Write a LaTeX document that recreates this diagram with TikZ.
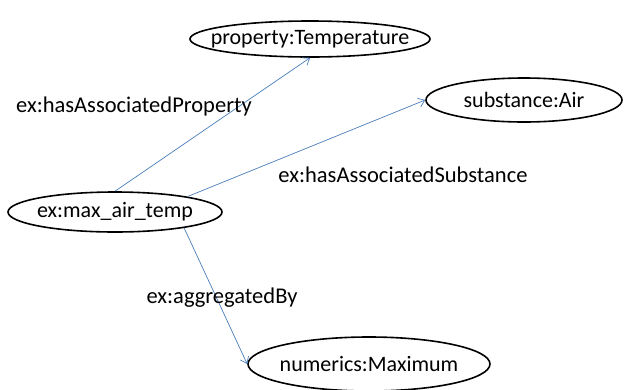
\documentclass[tikz,border=0pt]{standalone}
\usepackage{fontspec}
\setmainfont{Carlito}
\usetikzlibrary{shapes.geometric,arrows.meta}
\definecolor{linkblue}{RGB}{74,126,187}
\newcommand{\conceptname}[1]{\makebox[0pt]{#1}}
\tikzset{
  concept/.style={draw, ellipse, line width=1.6pt, inner sep=0pt},
  relation/.style={-{Straight Barb[length=6pt,width=9pt]}, draw=linkblue, line width=0.7pt},
  rellabel/.style={inner sep=0pt, font=\fontsize{22.5}{26}\selectfont}
}
\begin{document}
\begin{tikzpicture}[x=1pt,y=-1pt]
  {\fontsize{22}{26}\selectfont
  \useasboundingbox (0,0) rectangle (624,389);

  % Marking the concepts by ellipses
  \node [concept, minimum width=240pt, minimum height=36pt] (property) at (310,39) {\conceptname{property:Temperature}};
  \node [concept, minimum width=196pt, minimum height=44pt] (substance) at (524,100) {\conceptname{substance:Air}};
  \node [concept, minimum width=214pt, minimum height=40pt] (maxtemp) at (115,212) {\conceptname{ex:max\_air\_temp}};
  \node [concept, minimum width=242pt, minimum height=54pt] (numerics) at (369,364) {\conceptname{numerics:Maximum}};

  % Drawing the relations
  \draw [relation] (maxtemp.north) -- (property.south);
  \draw [relation] (maxtemp.12) -- (substance.west);
  \draw [relation] (maxtemp.-13) -- (numerics.west);

  % Marking the relation names
  \node [rellabel] (hasprop) at (134,106) {ex:hasAssociatedProperty};
  \node [rellabel] (hassubst) at (403,175) {ex:hasAssociatedSubstance};
  \node [rellabel] (aggby) at (222,298) {ex:aggregatedBy};
  }
\end{tikzpicture}
\end{document}
